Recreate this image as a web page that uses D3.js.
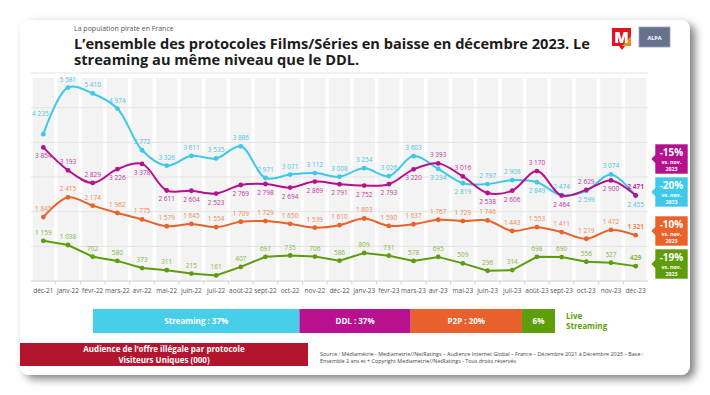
<!DOCTYPE html>
<html>
<head>
<meta charset="utf-8">
<script src="https://cdn.jsdelivr.net/npm/d3@7"></script>
<style>
  body { margin: 0; background: #fff; }
  svg { display: block; font-family: 'Open Sans', sans-serif; }
</style>
</head>
<body>
<div id="chart"></div>
<script>
// data
var months = ['déc-21', 'janv-22', 'févr-22', 'mars-22', 'avr-22', 'mai-22', 'juin-22', 'juil-22', 'août-22',
  'sept-22', 'oct-22', 'nov-22', 'déc-22', 'janv-23', 'févr-23', 'mars-23', 'avr-23', 'mai-23', 'juin-23',
  'juil-23', 'août-23', 'sept-23', 'oct-23', 'nov-23', 'déc-23']

var streaming = [4235, 5581, 5410, 4974, 3772, 3326, 3611, 3535, 3886, 2971, 3071, 3112, 3008, 3254, 3026,
  3603, 3234, 2819, 2797, 2908, 2849, 2474, 2599, 3074, 2455]
var ddl = [3854, 3193, 2829, 3226, 3378, 2611, 2604, 2523, 2769, 2798, 2694, 2869, 2791, 2752, 2793,
  3220, 3393, 3016, 2538, 2606, 3170, 2464, 2629, 2900, 2471]
var p2p = [1845, 2415, 2174, 1962, 1775, 1579, 1645, 1554, 1709, 1729, 1650, 1539, 1610, 1803, 1590,
  1637, 1767, 1729, 1746, 1443, 1553, 1411, 1219, 1472, 1321]
var live = [1159, 1038, 702, 580, 373, 311, 215, 161, 407, 697, 735, 706, 586, 809, 731,
  578, 695, 509, 296, 314, 698, 690, 556, 527, 429]

// where the value labels sit (u = above the point, d = below)
var streamingSides = ['u','u','u','u','u','u','u','u','u','u','u','u','u','u','u','u','d','d','u','u','d','u','d','u','d']
var ddlSides = ['d','u','u','d','d','d','d','d','d','d','d','d','d','d','d','d','u','u','d','d','u','d','u','d','u']

var yTicks = [0, 1000, 2000, 3000, 4000, 5000, 6000]

var shareNames = ['Streaming', 'DDL', 'P2P', 'Live Streaming']
var shareValues = [37, 37, 20, 6]

// layout
var width = 710
var height = 395
var plot = { left: 31, right: 648, top: 73, bottom: 281 }
var legendWeights = [206, 111, 111, 33] // widths of the share bar pieces as drawn
var badgeTops = [177, 144, 216, 249]

var series = [
  { key: 'Streaming', values: streaming, color: '#3ec8e9', label: '#4cc5e4', sides: streamingSides, curve: d3.curveCatmullRom },
  { key: 'DDL', values: ddl, color: '#b3118e', label: '#c0369f', sides: ddlSides, curve: d3.curveCatmullRom },
  { key: 'P2P', values: p2p, color: '#e8622a', label: '#ee8a57', sides: null, curve: d3.curveCatmullRom },
  { key: 'Live Streaming', values: live, color: '#5f9c0c', label: '#86b83c', sides: null, curve: d3.curveLinear }
]
var legendColors = ['#47cfea', '#b8108f', '#e8612c', '#5f9e0b']

var fmt = d3.formatLocale({ decimal: ',', thousands: ' ', grouping: [3], currency: ['', ' €'] }).format(',d')

var svg = d3.select('#chart')
  .append('svg')
  .attr('width', width)
  .attr('height', height)

var defs = svg.append('defs')
var shadow = defs.append('filter')
  .attr('id', 'shadow')
  .attr('x', '-5%').attr('y', '-5%')
  .attr('width', '115%').attr('height', '120%')
shadow.append('feDropShadow')
  .attr('dx', 5).attr('dy', 4)
  .attr('stdDeviation', 4)
  .attr('flood-color', '#000')
  .attr('flood-opacity', 0.5)

// card
svg.append('rect')
  .attr('x', 20).attr('y', 20)
  .attr('width', 670).attr('height', 355)
  .attr('rx', 9)
  .attr('fill', '#fff')
  .attr('filter', 'url(#shadow)')

// titles
svg.append('text')
  .text('La population pirate en France')
  .attr('x', 74).attr('y', 31)
  .attr('font-size', 7)
  .attr('fill', '#555')
svg.append('text')
  .text('L\u2019ensemble des protocoles Films/Séries en baisse en décembre 2023. Le')
  .attr('x', 74).attr('y', 49)
  .attr('font-size', 14.6)
  .attr('font-weight', 700)
  .attr('fill', '#1c1c1c')
svg.append('text')
  .text('streaming au même niveau que le DDL.')
  .attr('x', 74).attr('y', 65)
  .attr('font-size', 14.6)
  .attr('font-weight', 700)
  .attr('fill', '#1c1c1c')

// logos
var logo = svg.append('g')
logo.append('rect')
  .attr('x', 612).attr('y', 28).attr('width', 19).attr('height', 18)
  .attr('fill', '#e0141e')
logo.append('path')
  .attr('d', 'M622,46 L631,46 L631,36 Z')
  .attr('fill', '#f08a1c')
logo.append('path')
  .attr('d', 'M619,46 L625,46 L622,50 Z')
  .attr('fill', '#e0141e')
logo.append('text')
  .text('M')
  .attr('x', 621.5).attr('y', 43)
  .attr('text-anchor', 'middle')
  .attr('font-size', 15)
  .attr('font-weight', 800)
  .attr('fill', '#fff')
logo.append('rect')
  .attr('x', 639).attr('y', 27).attr('width', 31).attr('height', 20)
  .attr('fill', '#66728d')
  .attr('stroke', '#9aa3b6')
  .attr('stroke-width', 0.8)
logo.append('text')
  .text('ALPA')
  .attr('x', 654.5).attr('y', 39.5)
  .attr('text-anchor', 'middle')
  .attr('font-size', 5.5)
  .attr('font-weight', 700)
  .attr('fill', '#fff')

// scales
var xBand = d3.scaleBand()
  .domain(months)
  .range([plot.left, plot.right])
  .paddingInner(0.14)
  .paddingOuter(0.07)
var xPositionScale = function(m) { return xBand(m) + xBand.bandwidth() / 2 }

var yPositionScale = d3.scaleLinear()
  .domain([0, 6000])
  .range([plot.bottom, plot.top])

// column backgrounds
svg.append('g')
  .selectAll('rect')
  .data(months)
  .enter()
  .append('rect')
  .attr('x', d => xBand(d))
  .attr('y', plot.top + 5)
  .attr('width', xBand.bandwidth())
  .attr('height', plot.bottom - plot.top - 5)
  .attr('fill', '#f3f3f3')

// gridlines
svg.append('g')
  .selectAll('line')
  .data(yTicks)
  .enter()
  .append('line')
  .attr('x1', plot.left)
  .attr('x2', plot.right)
  .attr('y1', d => yPositionScale(d))
  .attr('y2', d => yPositionScale(d))
  .attr('stroke', d => d === 0 ? '#d0d0d0' : '#e4e4e4')
  .attr('stroke-width', 1)

// x axis
var xAxis = d3.axisBottom(xBand).tickSize(0).tickPadding(7)
var xg = svg.append('g')
  .attr('class', 'axis x-axis')
  .attr('transform', `translate(0, ${plot.bottom})`)
  .call(xAxis)
xg.select('.domain').remove()
xg.selectAll('text')
  .attr('font-size', 6.5)
  .attr('font-family', 'Open Sans, sans-serif')
  .attr('fill', '#555')
xg.selectAll('.sep')
  .data(months.slice(1))
  .enter()
  .append('line')
  .attr('class', 'sep')
  .attr('x1', d => xBand(d) - xBand.step() * 0.07)
  .attr('x2', d => xBand(d) - xBand.step() * 0.07)
  .attr('y1', 0).attr('y2', 3)
  .attr('stroke', '#d0d0d0')

// lines, markers, labels
series.forEach(function(s) {
  var pts = s.values.map((v, i) => ({ m: months[i], v: v, i: i }))
  var line = d3.line()
    .x(d => xPositionScale(d.m))
    .y(d => yPositionScale(d.v))
    .curve(s.curve)

  var g = svg.append('g')
  g.append('path')
    .datum(pts)
    .attr('d', line)
    .attr('fill', 'none')
    .attr('stroke', s.color)
    .attr('stroke-width', 2)

  g.selectAll('circle')
    .data(pts)
    .enter()
    .append('circle')
    .attr('cx', d => xPositionScale(d.m))
    .attr('cy', d => yPositionScale(d.v))
    .attr('r', 2.4)
    .attr('fill', s.color)

  g.selectAll('.val')
    .data(pts)
    .enter()
    .append('text')
    .attr('class', 'val')
    .text(d => fmt(d.v))
    .attr('x', function(d) {
      // first streaming label sits left of the steep rise
      var shift = (s.key === 'Streaming' && d.i === 0) ? -3 : 0
      return xPositionScale(d.m) + shift
    })
    .attr('y', function(d) {
      var side = s.sides ? s.sides[d.i] : 'u'
      var lift = (s.key === 'Streaming' && d.i === 0) ? -12 : 0
      return yPositionScale(d.v) + (side === 'u' ? -6 : 11) + lift
    })
    .attr('text-anchor', 'middle')
    .attr('font-size', 6.5)
    .attr('font-weight', d => (d.i === months.length - 1 && s.key !== 'Streaming') ? 700 : 400)
    .attr('fill', s.label)
})

// change badges (déc-23 vs nov-23)
series.forEach(function(s, k) {
  var n = s.values.length
  var change = Math.round((s.values[n - 1] / s.values[n - 2] - 1) * 100)
  var top = badgeTops[k]
  var h = 30
  var b = svg.append('g')
  b.append('path')
    .attr('d', `M655,${top} L688,${top} L688,${top + h} L655,${top + h} L655,${top + h / 2 + 4} L651,${top + h / 2} L655,${top + h / 2 - 4} Z`)
    .attr('fill', s.color)
    .attr('stroke', '#fff')
    .attr('stroke-width', 0.6)
  b.append('text')
    .text(change + '%')
    .attr('x', 671.5).attr('y', top + 12)
    .attr('text-anchor', 'middle')
    .attr('font-size', 10)
    .attr('font-weight', 700)
    .attr('fill', '#fff')
  b.append('text')
    .text('vs. nov.')
    .attr('x', 671.5).attr('y', top + 19.5)
    .attr('text-anchor', 'middle')
    .attr('font-size', 5.3)
    .attr('font-weight', 700)
    .attr('fill', '#fff')
  b.append('text')
    .text('2023')
    .attr('x', 671.5).attr('y', top + 26.5)
    .attr('text-anchor', 'middle')
    .attr('font-size', 5.3)
    .attr('font-weight', 700)
    .attr('fill', '#fff')
})

// share bar
var cum = d3.cumsum(legendWeights)
var shareScale = d3.scaleLinear()
  .domain([0, d3.sum(legendWeights)])
  .range([93, 555])
var shares = shareNames.map((name, i) => ({
  name: name,
  value: shareValues[i],
  x0: shareScale(cum[i] - legendWeights[i]),
  x1: shareScale(cum[i]),
  color: legendColors[i]
}))
var sg = svg.append('g')
sg.selectAll('rect')
  .data(shares)
  .enter()
  .append('rect')
  .attr('x', d => d.x0)
  .attr('y', 309)
  .attr('width', d => d.x1 - d.x0)
  .attr('height', 24)
  .attr('fill', d => d.color)
sg.selectAll('text')
  .data(shares)
  .enter()
  .append('text')
  .text(d => d.name === 'Live Streaming' ? d.value + '%' : d.name + ' : ' + d.value + '%')
  .attr('x', d => (d.x0 + d.x1) / 2)
  .attr('y', 324)
  .attr('text-anchor', 'middle')
  .attr('font-size', 8)
  .attr('font-weight', 700)
  .attr('fill', '#fff')
var liveLabel = svg.append('text')
  .attr('font-size', 8)
  .attr('font-weight', 700)
  .attr('fill', legendColors[3])
liveLabel.append('tspan').attr('x', 566).attr('y', 319).text('Live')
liveLabel.append('tspan').attr('x', 566).attr('y', 329).text('Streaming')

// red caption box
svg.append('rect')
  .attr('x', 20).attr('y', 343)
  .attr('width', 288).attr('height', 23)
  .attr('fill', '#b3152f')
var cap = svg.append('text')
  .attr('text-anchor', 'middle')
  .attr('font-size', 8)
  .attr('font-weight', 700)
  .attr('fill', '#fff')
cap.append('tspan').attr('x', 164).attr('y', 352).text('Audience de l\u2019offre illégale par protocole')
cap.append('tspan').attr('x', 164).attr('y', 363).text('Visiteurs Uniques (000)')

// source
var src = svg.append('text')
  .attr('font-size', 5.4)
  .attr('fill', '#444')
src.append('tspan').attr('x', 320).attr('y', 356)
  .text('Source : Médiamétrie - Mediametrie//NetRatings \u2013 Audience Internet Global \u2013 France \u2013 Décembre 2021 à Décembre 2023 \u2013 Base :')
src.append('tspan').attr('x', 320).attr('y', 363)
  .text('Ensemble 2 ans et + Copyright Mediametrie//NetRatings - Tous droits réservés')
</script>
</body>
</html>
